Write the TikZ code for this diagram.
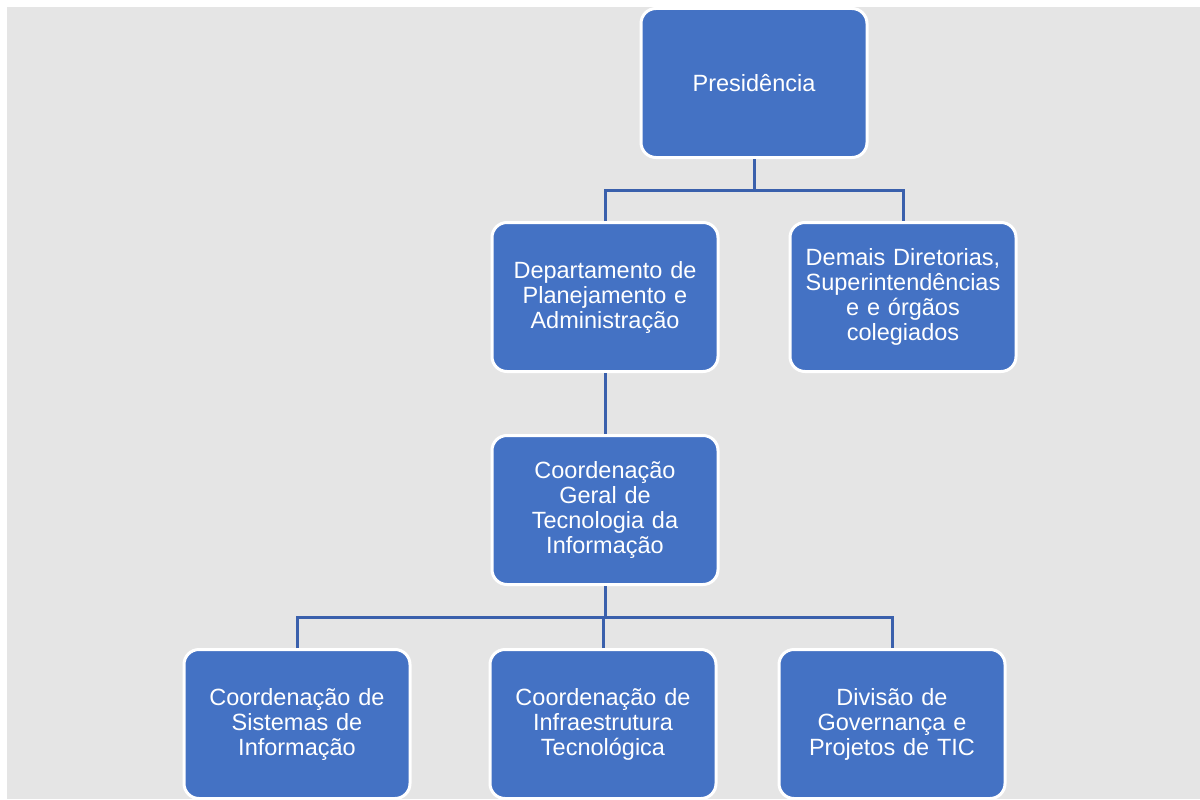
\documentclass[tikz,border=0pt]{standalone}
\usepackage{fontspec}
\setmainfont{Liberation Sans}
\definecolor{boxblue}{HTML}{4472C4}
\definecolor{linkblue}{RGB}{58,96,172}
\definecolor{bggray}{HTML}{E5E5E5}
\begin{document}
\begin{tikzpicture}[x=1pt,y=-1pt,
  orgbox/.style={draw=white, line width=3pt, fill=boxblue, rounded corners=15pt,
    minimum width=226pt, minimum height=149pt, text width=215pt, align=center,
    text=white, font=\fontsize{23.5}{25}\selectfont, inner sep=0pt},
  link/.style={draw=linkblue, line width=3pt}]
\useasboundingbox (0,0) rectangle (1200,800);
\fill[white] (0,0) rectangle (1200,800);
\fill[bggray] (7,7) rectangle (1200,799);
\node[orgbox] (pres) at (754,83) {Presidência};
\node[orgbox] (dpa) at (605,297) {Departamento de\\Planejamento e\\Administração};
\node[orgbox] (dem) at (903,297) {Demais Diretorias,\\Superintendências\\e e órgãos\\colegiados};
\node[orgbox] (cgti) at (605,510) {Coordenação\\Geral de\\Tecnologia da\\Informação};
\node[orgbox] (csi) at (297,724) {Coordenação de\\Sistemas de\\Informação};
\node[orgbox] (cit) at (603,724) {Coordenação de\\Infraestrutura\\Tecnológica};
\node[orgbox] (dgp) at (892,724) {Divisão de\\Governança e\\Projetos de TIC};
\coordinate (j1) at (754,190);
\coordinate (j2) at (605,617);
\draw[link] (pres.south) -- (j1);
\draw[link] (dpa.north) |- (j1) -| (dem.north);
\draw[link] (dpa.south) -- (cgti.north);
\draw[link] (cgti.south) -- (j2);
\draw[link] (csi.north) |- (j2) -| (dgp.north);
\draw[link] (cit.north) -- (cit.north |- j2);
\end{tikzpicture}
\end{document}
